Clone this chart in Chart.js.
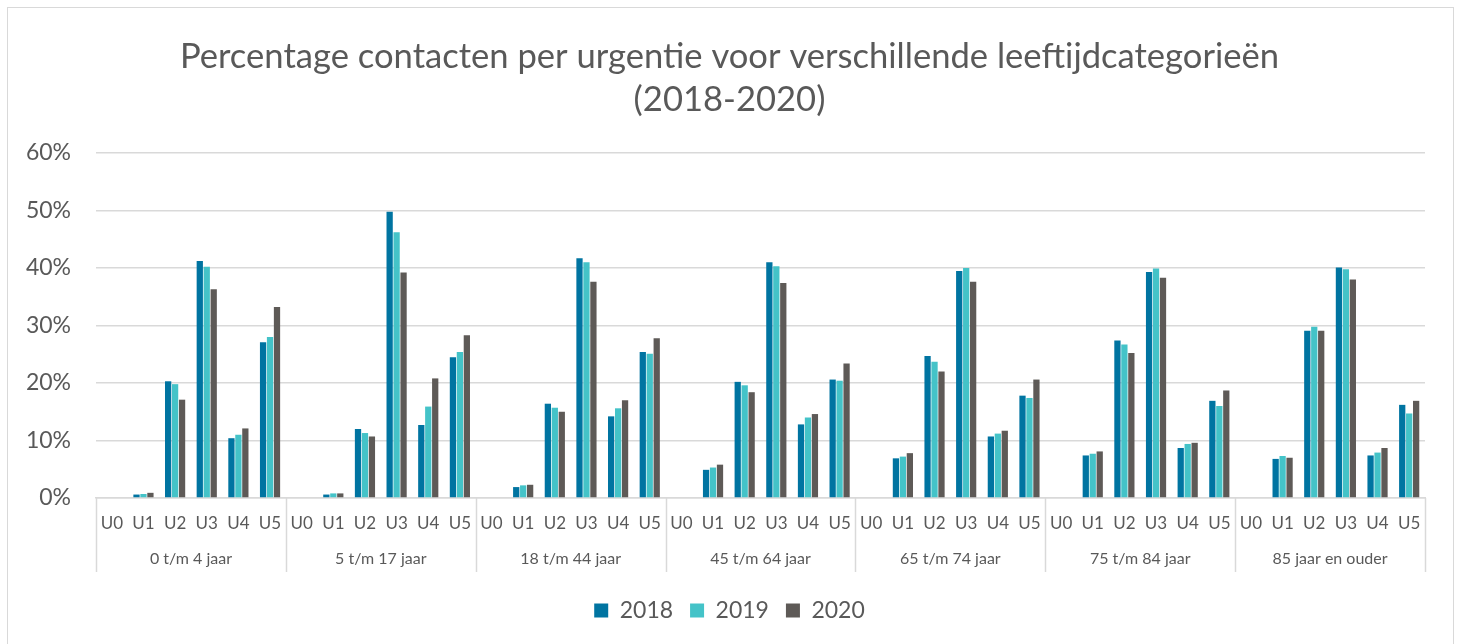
<!DOCTYPE html>
<html>
<head>
  <title>Percentage contacten per urgentie</title>
  <meta name="viewport" content="width=device-width, initial-scale=1">
  <script src="https://cdn.jsdelivr.net/npm/chart.js"></script>
  <style>
    body {
      margin: 0;
      padding: 0;
      overflow: hidden;
      background: #fff;
    }

    #frame {
      position: absolute;
      left: 7px;
      top: 7px;
      width: 1445px;
      height: 700px;
      border: 1.5px solid #d9d9d9;
    }

    #chart-container {
      position: absolute;
      left: 0;
      top: 0;
      width: 1459px;
      height: 644px;
    }
  </style>
</head>
<body>

  <div id="frame"></div>
  <div id="chart-container">
    <canvas id="myChart"></canvas>
  </div>

  <script>
    const groepen = ['0 t/m 4 jaar', '5 t/m 17 jaar', '18 t/m 44 jaar', '45 t/m 64 jaar',
      '65 t/m 74 jaar', '75 t/m 84 jaar', '85 jaar en ouder'];
    const urgenties = ['U0', 'U1', 'U2', 'U3', 'U4', 'U5'];
    const yTicks = [0, 10, 20, 30, 40, 50, 60];

    // percentages, per leeftijdsgroep U0..U5
    const data2018 = [0, 0.6, 20.3, 41.2, 10.4, 27.1,  0, 0.6, 12.0, 49.8, 12.7, 24.5,
      0, 1.9, 16.4, 41.7, 14.2, 25.4,  0, 4.9, 20.2, 41.0, 12.8, 20.6,
      0, 6.9, 24.7, 39.5, 10.7, 17.8,  0, 7.4, 27.4, 39.3, 8.7, 16.9,
      0, 6.8, 29.1, 40.1, 7.4, 16.2];
    const data2019 = [0, 0.7, 19.8, 40.2, 11.0, 28.0,  0, 0.8, 11.3, 46.2, 15.9, 25.4,
      0, 2.2, 15.7, 41.0, 15.6, 25.1,  0, 5.3, 19.6, 40.3, 14.0, 20.4,
      0, 7.2, 23.7, 40.0, 11.2, 17.4,  0, 7.7, 26.7, 39.9, 9.4, 16.0,
      0, 7.3, 29.8, 39.8, 7.9, 14.7];
    const data2020 = [0, 0.9, 17.1, 36.3, 12.1, 33.2,  0, 0.8, 10.7, 39.2, 20.8, 28.3,
      0, 2.3, 15.0, 37.6, 17.0, 27.8,  0, 5.8, 18.4, 37.4, 14.6, 23.4,
      0, 7.8, 22.0, 37.6, 11.7, 20.6,  0, 8.1, 25.2, 38.3, 9.6, 18.7,
      0, 7.0, 29.1, 38.0, 8.7, 16.9];

    const labels = [];
    groepen.forEach(() => urgenties.forEach(u => labels.push(u)));

    const tekstKleur = '#595959';
    const lijnKleur = '#d9d9d9';
    Chart.defaults.font.family = 'Lato, "Open Sans", sans-serif';

    // scheidingslijnen tussen leeftijdsgroepen op de categorie-as
    const groepLijnen = {
      id: 'groepLijnen',
      afterDraw(chart) {
        const x2 = chart.scales.x2;
        const ctx = chart.ctx;
        const n = groepen.length;
        ctx.save();
        ctx.strokeStyle = lijnKleur;
        ctx.lineWidth = 1.5;
        for (let k = 0; k <= n; k++) {
          const px = Math.round(x2.left + k * (x2.right - x2.left) / n) + 0.5;
          ctx.beginPath();
          ctx.moveTo(px, chart.chartArea.bottom);
          ctx.lineTo(px, x2.top + 30);
          ctx.stroke();
        }
        ctx.restore();
      }
    };

    const ctx = document.getElementById('myChart').getContext('2d');
    const chart = new Chart(ctx, {
      type: 'bar',
      data: {
        labels: labels,
        datasets: [
          { label: '2018', data: data2018, backgroundColor: '#0074a1' },
          { label: '2019', data: data2019, backgroundColor: '#44c3c8' },
          { label: '2020', data: data2020, backgroundColor: '#5e5a57' }
        ]
      },
      options: {
        responsive: true,
        maintainAspectRatio: false,
        animation: false,
        datasets: {
          bar: { categoryPercentage: 0.66, barPercentage: 0.9 }
        },
        layout: {
          padding: { left: 0, right: 0, top: 0, bottom: 12 }
        },
        plugins: {
          title: {
            display: true,
            text: ['Percentage contacten per urgentie voor verschillende leeftijdcategorieën', '(2018-2020)'],
            color: tekstKleur,
            font: { size: 34.6, weight: 'normal', lineHeight: 1.243 },
            padding: { top: 35, bottom: 32 }
          },
          legend: {
            position: 'bottom',
            labels: {
              color: tekstKleur,
              font: { size: 23 },
              boxWidth: 14,
              boxHeight: 14,
              padding: 17
            }
          },
          tooltip: { enabled: false }
        },
        scales: {
          x: {
            offset: true,
            grid: { display: false },
            border: { display: true, color: lijnKleur, width: 1.5 },
            ticks: {
              color: tekstKleur,
              font: { size: 17 },
              autoSkip: false,
              maxRotation: 0,
              padding: 7
            },
            afterFit(scale) { scale.height = 44; }
          },
          x2: {
            type: 'category',
            labels: groepen,
            position: 'bottom',
            offset: true,
            grid: { display: false },
            border: { display: false },
            ticks: {
              color: tekstKleur,
              font: { size: 16 },
              maxRotation: 0,
              autoSkip: false,
              padding: -1
            },
            afterFit(scale) { scale.height = 40; }
          },
          y: {
            min: 0,
            max: 60,
            afterBuildTicks(scale) {
              scale.ticks = yTicks.map(v => ({ value: v }));
            },
            grid: { color: lijnKleur, lineWidth: 1.5, drawTicks: false },
            border: { display: false },
            ticks: {
              color: tekstKleur,
              font: { size: 23 },
              padding: 25,
              callback: v => v + '%'
            },
            afterFit(scale) { scale.width = 96; }
          },
          // lege as rechts: alleen ruimte naast het plotgebied
          yRechts: {
            type: 'linear',
            position: 'right',
            grid: { display: false },
            border: { display: false },
            ticks: { display: false },
            afterFit(scale) { scale.width = 34; }
          }
        }
      },
      plugins: [groepLijnen]
    });
  </script>

</body>
</html>
